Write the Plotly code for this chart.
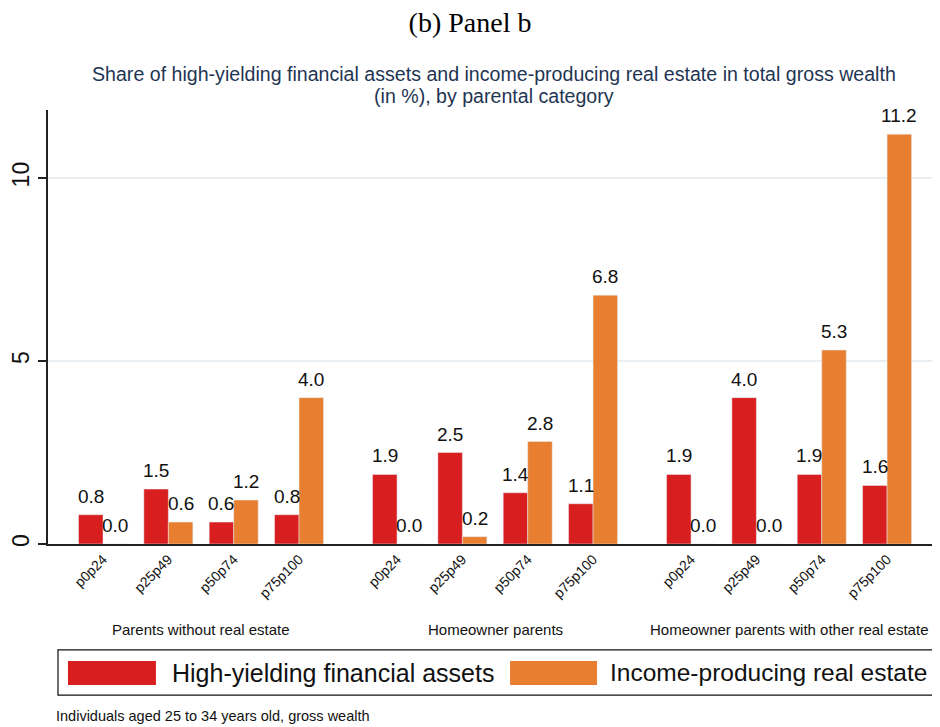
import plotly.graph_objects as go

# Données
groups = ["Parents without real estate", "Homeowner parents",
          "Homeowner parents with other real estate"]
pct_labels = ["p0p24", "p25p49", "p50p74", "p75p100"]
financial = [0.8, 1.5, 0.6, 0.8, 1.9, 2.5, 1.4, 1.1, 1.9, 4.0, 1.9, 1.6]
real_estate = [0.0, 0.6, 1.2, 4.0, 0.0, 0.2, 2.8, 6.8, 0.0, 0.0, 5.3, 11.2]
y_ticks = [0, 5, 10]

RED = "#d91e1f"
ORANGE = "#e87e2f"
FONT = "Liberation Sans, Arial, sans-serif"

# positions sur l'axe : 4 catégories par groupe, un espace entre les groupes
positions = [g * 4.5 + i for g in range(len(groups)) for i in range(len(pct_labels))]
tick_text = pct_labels * len(groups)
bw = 0.375

fig = go.Figure()

fig.add_trace(go.Bar(
    x=positions, y=financial, name="High-yielding financial assets",
    marker_color=RED, width=bw, offset=-bw
))
fig.add_trace(go.Bar(
    x=positions, y=real_estate, name="Income-producing real estate",
    marker_color=ORANGE, width=bw, offset=0
))

# valeurs au-dessus des barres
for vals, shift in [(financial, -bw / 2), (real_estate, bw / 2)]:
    for x, v in zip(positions, vals):
        fig.add_annotation(
            x=x + shift, y=v, xref="x", yref="y", text=f"{v:.1f}",
            showarrow=False, yanchor="bottom", yshift=6,
            font=dict(size=19, color="#111", family=FONT)
        )

# étiquettes de groupe sous l'axe
for g, label in enumerate(groups):
    fig.add_annotation(
        x=g * 4.5 + 1.5, y=-0.198, xref="x", yref="paper",
        text=label, showarrow=False, yanchor="middle",
        font=dict(size=15, color="#111", family=FONT)
    )

# sous-titre (deux lignes)
subtitle = ["Share of high-yielding financial assets and income-producing real estate in total gross wealth",
            "(in %), by parental category"]
for line, yy in zip(subtitle, [1.083, 1.032]):
    fig.add_annotation(
        x=0.5, y=yy, xref="paper", yref="paper", yanchor="middle",
        text=line, showarrow=False,
        font=dict(size=19.6, color="#1f3553", family=FONT)
    )

# légende dessinée à la main (grandes pastilles comme dans l'original)
fig.add_shape(type="rect", xref="paper", yref="paper",
              x0=0.0112, x1=1.02, y0=-0.348, y1=-0.244,
              line=dict(color="#111", width=1.2), fillcolor="white")
fig.add_shape(type="rect", xref="paper", yref="paper",
              x0=0.0224, x1=0.121, y0=-0.325, y1=-0.2696,
              line=dict(width=0), fillcolor=RED)
fig.add_shape(type="rect", xref="paper", yref="paper",
              x0=0.518, x1=0.6155, y0=-0.325, y1=-0.2696,
              line=dict(width=0), fillcolor=ORANGE)
fig.add_annotation(x=0.1368, y=-0.297, xref="paper", yref="paper",
                   xanchor="left", yanchor="middle", showarrow=False,
                   text="High-yielding financial assets",
                   font=dict(size=25, color="#111", family=FONT))
fig.add_annotation(x=0.628, y=-0.297, xref="paper", yref="paper",
                   xanchor="left", yanchor="middle", showarrow=False,
                   text="Income-producing real estate",
                   font=dict(size=24.5, color="#111", family=FONT))

# note de bas
fig.add_annotation(x=0.0067, y=-0.396, xref="paper", yref="paper",
                   xanchor="left", yanchor="middle", showarrow=False,
                   text="Individuals aged 25 to 34 years old, gross wealth",
                   font=dict(size=14.5, color="#111", family=FONT))

# la page a une marge de 8 px : figure réduite d'autant
fig.update_layout(
    title=dict(text="(b) Panel b", x=0.4957, xref="container", y=0.9805,
               yref="container", xanchor="center", yanchor="middle",
               font=dict(family="Liberation Serif, Times New Roman, serif",
                         size=28, color="#000")),
    width=932, height=719,
    margin=dict(l=40, r=0, t=102, b=183),
    paper_bgcolor="white", plot_bgcolor="white",
    showlegend=False,
    font=dict(family=FONT, color="#111"),
    xaxis=dict(
        range=[-0.842, 12.81], tickvals=positions, ticktext=tick_text,
        tickangle=-45, tickfont=dict(size=14, color="#111"),
        showgrid=False, zeroline=False, showline=True, automargin=False,
        linecolor="#222", linewidth=1.5, ticks=""
    ),
    yaxis=dict(
        range=[0, 11.86], tickvals=y_ticks, tickangle=-90,
        tickfont=dict(size=23, color="#111"), automargin=False,
        showgrid=True, gridcolor="#e8eef1", gridwidth=1.5,
        zeroline=False, showline=True, linecolor="#222", linewidth=1.5,
        ticks="outside", ticklen=8, tickcolor="#222", tickwidth=1.5
    )
)

fig.write_html("out.html")
